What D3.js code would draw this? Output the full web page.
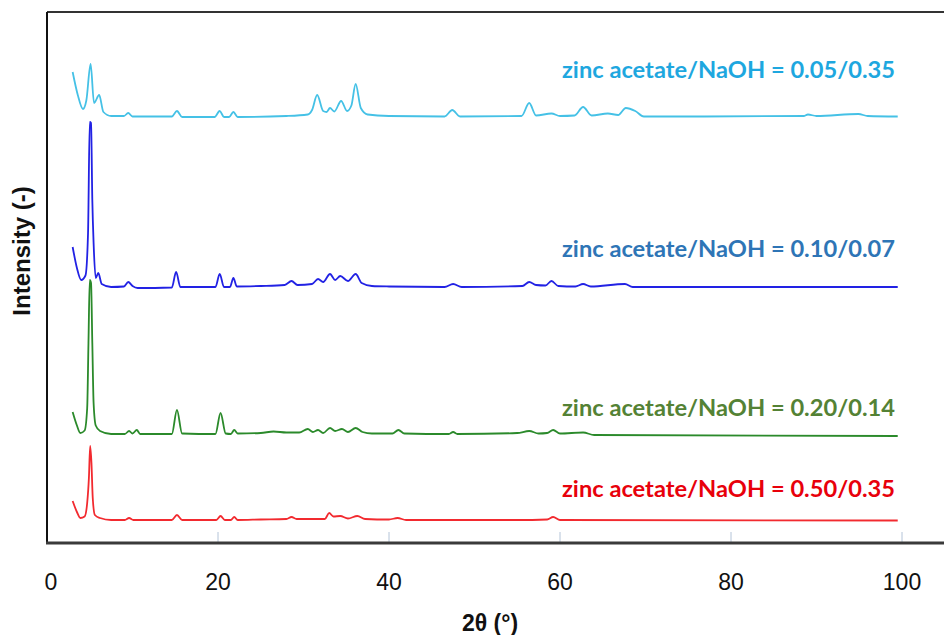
<!DOCTYPE html>
<html>
<head>
<meta charset="utf-8">
<script src="https://cdn.jsdelivr.net/npm/d3@7"></script>
<style>
  body { margin: 0; background: #fff; }
  svg { display: block; }
</style>
</head>
<body>
<div id="chart"></div>
<script>
// Data: [2theta (deg), intensity (a.u., offset per sample)]
const cyanData = [
  [3.0, 94.2], [3.6, 89.6], [4.2, 86.8], [4.6, 88.5], [5.1, 95.8], [5.5, 88.0],
  [6.1, 89.6], [6.6, 86.2], [7.5, 85.4], [9.0, 85.4], [9.5, 86.0], [10.0, 85.3],
  [14.6, 85.3], [15.2, 86.4], [15.8, 85.2], [19.6, 85.2], [20.2, 86.4], [20.7, 85.2],
  [21.3, 85.2], [21.8, 86.2], [22.3, 85.2], [28.0, 85.4], [30.5, 85.7], [31.0, 86.6],
  [31.6, 89.6], [32.3, 86.4], [32.7, 86.2], [33.1, 87.0], [33.6, 86.3], [34.4, 88.4],
  [35.1, 86.4], [35.6, 87.5], [36.1, 91.8], [36.7, 87.0], [37.5, 85.7], [40.0, 85.4],
  [46.5, 85.3], [47.4, 86.6], [48.3, 85.3], [55.5, 85.4], [56.4, 88.0], [57.2, 85.5],
  [59.0, 85.9], [60.0, 85.4], [61.7, 85.5], [62.7, 87.2], [63.7, 85.5], [65.6, 85.9],
  [66.8, 85.6], [67.7, 87.0], [68.8, 86.4], [69.8, 85.3], [76.4, 85.3], [88.5, 85.4],
  [89.0, 85.7], [90.0, 85.4], [94.9, 85.8], [96.0, 85.4], [99.5, 85.3]
];
const blueData = [
  [3.0, 59.2], [3.5, 55.0], [4.0, 52.6], [4.5, 53.5], [4.8, 62.0], [5.0, 84.2],
  [5.15, 84.0], [5.3, 68.6], [5.45, 60.0], [5.7, 53.0], [6.0, 54.0], [6.4, 51.8],
  [7.5, 51.2], [9.0, 51.3], [9.5, 52.2], [10.0, 51.4], [10.6, 51.0], [14.6, 51.1],
  [15.1, 54.2], [15.6, 51.2], [19.7, 51.2], [20.2, 53.8], [20.7, 51.2], [21.4, 51.2],
  [21.8, 53.0], [22.2, 51.3], [25.0, 51.4], [27.8, 51.6], [28.6, 52.4], [29.3, 51.6],
  [31.0, 51.8], [31.7, 52.8], [32.3, 52.2], [33.1, 53.8], [33.7, 52.6], [34.3, 53.4],
  [35.2, 52.4], [36.1, 53.8], [36.8, 52.0], [38.0, 51.4], [40.0, 51.3], [46.5, 51.2],
  [47.5, 51.8], [48.5, 51.2], [55.6, 51.4], [56.4, 52.2], [57.2, 51.6], [58.3, 51.5],
  [59.0, 52.4], [59.8, 51.4], [61.8, 51.3], [62.7, 51.8], [63.6, 51.3], [67.6, 51.8],
  [68.5, 51.2], [99.5, 51.2]
];
const greenData = [
  [3.0, 26.2], [3.5, 23.5], [3.9, 22.0], [4.4, 22.5], [4.7, 27.0], [4.85, 40.0],
  [5.0, 52.6], [5.15, 52.0], [5.3, 40.0], [5.45, 28.0], [5.7, 23.5], [6.2, 22.4],
  [7.5, 21.8], [9.1, 21.8], [9.6, 22.4], [10.0, 21.9], [10.5, 22.6], [10.9, 21.8],
  [14.6, 21.8], [15.2, 26.6], [15.8, 21.9], [19.7, 21.8], [20.3, 26.0], [20.9, 21.9],
  [21.5, 21.8], [21.9, 22.6], [22.3, 21.9], [25.0, 22.0], [26.5, 22.3], [28.0, 22.1],
  [29.5, 22.1], [30.5, 22.8], [31.1, 22.2], [31.7, 22.6], [32.3, 22.0], [33.1, 23.0],
  [33.7, 22.4], [34.5, 22.8], [35.2, 22.2], [36.1, 23.0], [36.9, 22.2], [38.0, 21.9],
  [40.4, 21.9], [41.1, 22.6], [41.8, 21.9], [47.0, 21.8], [47.5, 22.2], [48.0, 21.8],
  [55.0, 22.0], [56.4, 22.4], [57.5, 21.9], [58.5, 22.0], [59.2, 22.6], [60.0, 21.9],
  [62.7, 22.1], [64.0, 21.6], [99.5, 21.4]
];
const redData = [
  [3.0, 8.4], [3.5, 6.2], [3.9, 5.0], [4.4, 5.3], [4.7, 8.0], [4.9, 13.0],
  [5.05, 19.4], [5.2, 16.0], [5.35, 9.0], [5.6, 5.6], [6.2, 5.0], [7.5, 4.6],
  [9.1, 4.6], [9.6, 5.0], [10.1, 4.6], [14.6, 4.6], [15.2, 5.6], [15.8, 4.6],
  [19.8, 4.6], [20.3, 5.4], [20.8, 4.6], [21.5, 4.6], [21.9, 5.2], [22.3, 4.6],
  [25.0, 4.7], [28.0, 4.8], [28.6, 5.2], [29.2, 4.8], [32.5, 4.8], [33.0, 6.0],
  [33.5, 5.3], [34.3, 5.4], [35.2, 4.9], [36.3, 5.4], [37.2, 4.8], [40.0, 4.7],
  [41.0, 5.0], [42.0, 4.6], [55.0, 4.6], [58.5, 4.7], [59.2, 5.2], [60.0, 4.6],
  [99.5, 4.5]
];
const labels = [
  "zinc acetate/NaOH = 0.05/0.35",
  "zinc acetate/NaOH = 0.10/0.07",
  "zinc acetate/NaOH = 0.20/0.14",
  "zinc acetate/NaOH = 0.50/0.35"
];
const labelLevels = [93, 57.2, 25.4, 9.2];
const xTicks = [0, 20, 40, 60, 80, 100];

const series = [
  { data: cyanData, line: "#45c1e6", text: "#1ea7df" },
  { data: blueData, line: "#2222e4", text: "#2e75b6" },
  { data: greenData, line: "#2b8a2b", text: "#548235" },
  { data: redData, line: "#f22a2f", text: "#e8000b" }
];

const W = 946, H = 635;
const margin = { top: 12, right: 2, bottom: 92, left: 47 };

const svg = d3.select("#chart").append("svg")
  .attr("width", W)
  .attr("height", H);

const x = d3.scaleLinear()
  .domain([0, 100])
  .range([margin.left, margin.left + 855]);

const y = d3.scaleLinear()
  .domain([0, 106.2])
  .range([H - margin.bottom, margin.top]);

const x0 = margin.left, x1 = W - margin.right;
const yB = H - margin.bottom;

// tick marks (inside, pale)
svg.append("g")
  .selectAll("line")
  .data(xTicks.filter(d => d > 0))
  .join("line")
  .attr("x1", d => x(d)).attr("x2", d => x(d))
  .attr("y1", yB - 11).attr("y2", yB)
  .attr("stroke", "#b4c4d8")
  .attr("stroke-width", 1);

// frame
svg.append("line")
  .attr("x1", x0).attr("x2", x1).attr("y1", margin.top).attr("y2", margin.top)
  .attr("stroke", "#333").attr("stroke-width", 2);
svg.append("line")
  .attr("x1", x0).attr("x2", x0).attr("y1", margin.top).attr("y2", yB)
  .attr("stroke", "#111").attr("stroke-width", 2);
svg.append("line")
  .attr("x1", x0 - 1).attr("x2", x1).attr("y1", yB).attr("y2", yB)
  .attr("stroke", "#3a3a3a").attr("stroke-width", 3);

// tick labels
svg.append("g")
  .selectAll("text")
  .data(xTicks)
  .join("text")
  .attr("x", d => x(d) + (d === 0 ? 4 : 0))
  .attr("y", 590)
  .attr("text-anchor", "middle")
  .style("font-family", "'Liberation Sans', Arial, sans-serif")
  .style("font-size", "23px")
  .attr("fill", "#111")
  .text(d => d);

// axis titles
svg.append("text")
  .attr("x", 490)
  .attr("y", 631)
  .attr("text-anchor", "middle")
  .style("font-family", "'Liberation Sans', Arial, sans-serif")
  .style("font-size", "23px")
  .style("font-weight", "bold")
  .attr("fill", "#111")
  .text("2θ (°)");

svg.append("text")
  .attr("transform", "translate(30,251) rotate(-90)")
  .attr("text-anchor", "middle")
  .style("font-family", "'Liberation Sans', Arial, sans-serif")
  .style("font-size", "24px")
  .style("font-weight", "bold")
  .attr("fill", "#111")
  .text("Intensity (-)");

// traces
const line = d3.line()
  .x(d => x(d[0]))
  .y(d => y(d[1]))
  .curve(d3.curveMonotoneX);

svg.append("g")
  .selectAll("path")
  .data(series)
  .join("path")
  .attr("d", d => line(d.data))
  .attr("fill", "none")
  .attr("stroke", d => d.line)
  .attr("stroke-width", 1.8)
  .attr("stroke-linejoin", "round");

// sample labels
svg.append("g")
  .selectAll("text")
  .data(series)
  .join("text")
  .attr("x", 895)
  .attr("y", (d, i) => y(labelLevels[i]))
  .attr("text-anchor", "end")
  .style("font-family", "Lato, 'Open Sans', sans-serif")
  .style("font-size", "22px")
  .style("font-weight", "bold")
  .attr("textLength", 333)
  .attr("lengthAdjust", "spacingAndGlyphs")
  .attr("fill", d => d.text)
  .text((d, i) => labels[i]);
</script>
</body>
</html>
